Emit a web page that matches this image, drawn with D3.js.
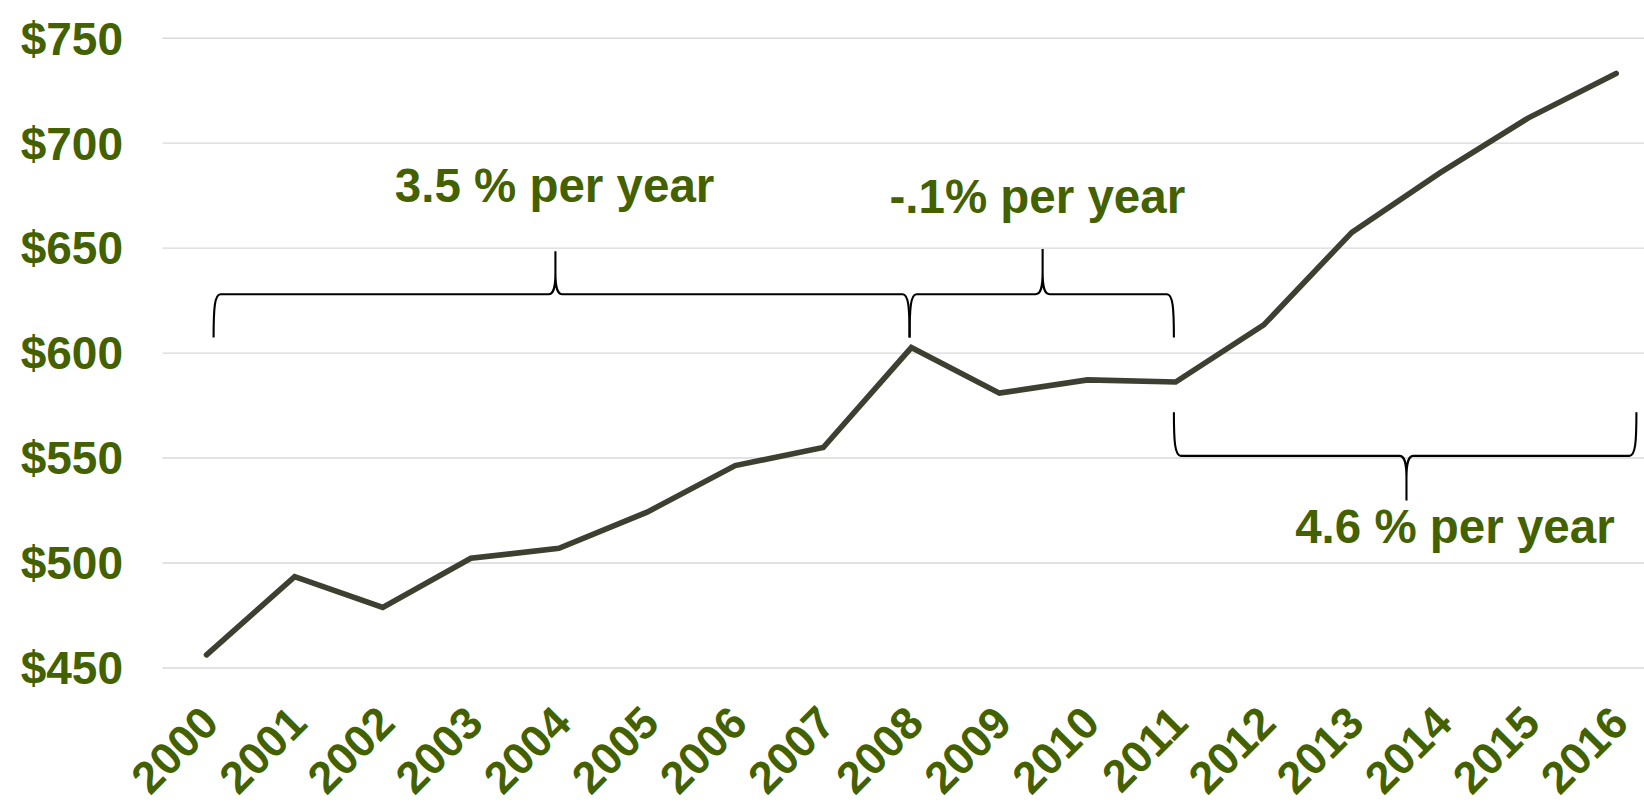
<!DOCTYPE html>
<html>
<head>
<meta charset="utf-8">
<script src="https://cdn.jsdelivr.net/npm/d3@7/dist/d3.min.js"></script>
<style>
  html, body { margin: 0; padding: 0; background: #ffffff; }
  svg { display: block; }
  text { font-family: "Liberation Sans", Arial, sans-serif; font-weight: bold; }
</style>
</head>
<body>
<svg id="chart" width="1644" height="804"></svg>
<script>
// ---- data ----
const years = ["2000","2001","2002","2003","2004","2005","2006","2007","2008",
               "2009","2010","2011","2012","2013","2014","2015","2016"];
const values = [456.0, 493.3, 478.6, 502.0, 506.8, 524.0, 546.2, 554.8, 602.4,
                580.7, 587.0, 586.0, 613.2, 657.3, 685.6, 711.7, 733.0];
const yTicks = [450, 500, 550, 600, 650, 700, 750];
const yTickLabels = ["$450", "$500", "$550", "$600", "$650", "$700", "$750"];

// braces: span in years (from, to, tip), values for ends / bar / tip
const braceFrom  = [2000.08, 2007.98, 2010.98];
const braceTo    = [2007.98, 2010.98, 2016.23];
const braceTip   = [2003.96, 2009.49, 2013.62];
const braceEnd   = [607.2, 607.2, 571.6];
const braceBar   = [627.8, 627.8, 550.8];
const bracePeak  = [648.3, 649.3, 529.5];
const noteText   = ["3.5 % per year", "-.1% per year", "4.6 % per year"];
const noteYear   = [2003.95, 2009.43, 2014.17];
const noteValue  = [671.5, 666.5, 509.5];

// ---- layout ----
const plotLeft = 162.5, plotRight = 1660.2;
const plotTop = 37.7, plotBottom = 667.5;
const green = "#446100";
const lineColor = "#3d4030";

const svg = d3.select("#chart");

const x = d3.scalePoint().domain(years).range([plotLeft, plotRight]).padding(0.5);
const xf = yr => x(years[0]) + (yr - (+years[0])) * x.step();
const y = d3.scaleLinear().domain([450, 750]).range([plotBottom, plotTop]);

// gridlines + y labels
const yAxis = d3.axisLeft(y).tickValues(yTicks)
  .tickSize(-(plotRight - plotLeft)).tickFormat((d, i) => yTickLabels[i]);
const gy = svg.append("g").attr("transform", `translate(${plotLeft},0)`).call(yAxis);
gy.select(".domain").remove();
gy.selectAll(".tick line").attr("stroke", "#d9d9d9").attr("stroke-width", 1.4);
gy.selectAll(".tick text")
  .attr("fill", green).style("font-size", "46px").attr("dy", "0.355em")
  .attr("x", 123 - plotLeft);

// x axis labels
const xAxis = d3.axisBottom(x).tickSize(0).tickPadding(0);
const gx = svg.append("g").attr("transform", `translate(0,${plotBottom})`).call(xAxis);
gx.select(".domain").remove();
gx.selectAll(".tick text")
  .attr("fill", green).style("font-size", "45px")
  .attr("text-anchor", "end")
  .attr("y", 0).attr("dy", 0)
  .attr("transform", "translate(14,58) rotate(-45)");

// line
const line = d3.line().x((d, i) => x(years[i])).y(d => y(d));
svg.append("path").datum(values)
  .attr("d", line).attr("fill", "none")
  .attr("stroke", lineColor).attr("stroke-width", 5.6)
  .attr("stroke-linejoin", "miter").attr("stroke-linecap", "round");

// braces
function bracePath(x0, x1, xt, yE, yH, yT) {
  const s = Math.sign(yE - yH);
  const a = 7;
  const v = Math.min(22, Math.abs(yH - yT) * 0.5);
  return `M${x0},${yE} C${x0},${yH + s * 14} ${x0 + 1},${yH} ${x0 + a},${yH}` +
         ` L${xt - a},${yH} C${xt - 2},${yH} ${xt},${yH - s * 6} ${xt},${yH - s * v} L${xt},${yT}` +
         ` M${xt},${yH - s * v} C${xt},${yH - s * 6} ${xt + 2},${yH} ${xt + a},${yH}` +
         ` L${x1 - a},${yH} C${x1 - 1},${yH} ${x1},${yH + s * 14} ${x1},${yE}`;
}
svg.append("g").selectAll("path").data(braceFrom).join("path")
  .attr("d", (d, i) => bracePath(xf(braceFrom[i]), xf(braceTo[i]), xf(braceTip[i]),
                                 y(braceEnd[i]), y(braceBar[i]), y(bracePeak[i])))
  .attr("fill", "none").attr("stroke", "#000").attr("stroke-width", 2.1);

// notes
svg.append("g").selectAll("text").data(noteText).join("text")
  .attr("x", (d, i) => xf(noteYear[i]))
  .attr("y", (d, i) => y(noteValue[i]))
  .attr("text-anchor", "middle")
  .attr("fill", green).style("font-size", "47.5px")
  .text(d => d);
</script>
</body>
</html>
